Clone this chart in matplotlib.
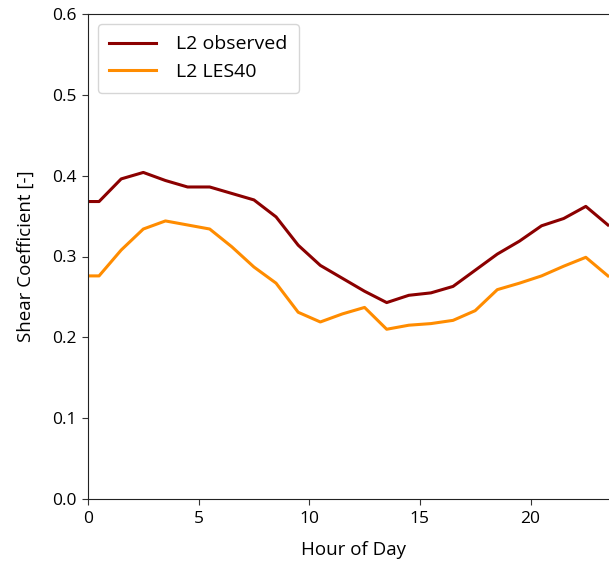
import matplotlib
matplotlib.use("Agg")
import matplotlib.pyplot as plt

plt.rcParams['font.family'] = ['Open Sans', 'DejaVu Sans']

hours = [0, 0.5, 1.5, 2.5, 3.5, 4.5, 5.5, 6.5, 7.5, 8.5, 9.5, 10.5, 11.5,
         12.5, 13.5, 14.5, 15.5, 16.5, 17.5, 18.5, 19.5, 20.5, 21.5, 22.5, 23.5]
observed = [0.368, 0.368, 0.396, 0.404, 0.394, 0.386, 0.386, 0.378, 0.370,
            0.349, 0.314, 0.289, 0.273, 0.257, 0.243, 0.252, 0.255, 0.263,
            0.283, 0.303, 0.319, 0.338, 0.347, 0.362, 0.339]
les40 = [0.276, 0.276, 0.308, 0.334, 0.344, 0.339, 0.334, 0.312, 0.287,
         0.267, 0.231, 0.219, 0.229, 0.237, 0.210, 0.215, 0.217, 0.221,
         0.233, 0.259, 0.267, 0.276, 0.288, 0.299, 0.276]

W, H = 609, 566
fig = plt.figure(figsize=(W / 100, H / 100), dpi=100)
ax = fig.add_axes([88 / W, 1 - 499 / H, 531 / W, 485 / H])

ax.plot(hours, observed, color='#8b0000', lw=2.2, label='L2 observed')
ax.plot(hours, les40, color='#ff8c00', lw=2.2, label='L2 LES40')

ax.set_xlim(0, 24)
ax.set_ylim(0, 0.6)
ax.set_xticks([0, 5, 10, 15, 20])
ax.set_yticks([0.0, 0.1, 0.2, 0.3, 0.4, 0.5, 0.6])
ax.tick_params(labelsize=12.5, length=4.5, color='#333333', pad=4)
ax.set_xlabel('Hour of Day', fontsize=13.5, labelpad=10)
ax.set_ylabel('Shear Coefficient [-]', fontsize=13.5, labelpad=12)
for s in ax.spines.values():
    s.set_color('#222222')

leg = ax.legend(loc='upper left', fontsize=14, frameon=True, fancybox=True,
                edgecolor='#cccccc', borderpad=0.6, handlelength=2.4,
                handletextpad=1.0, labelspacing=0.5)

fig.savefig('out.png', dpi=100)
